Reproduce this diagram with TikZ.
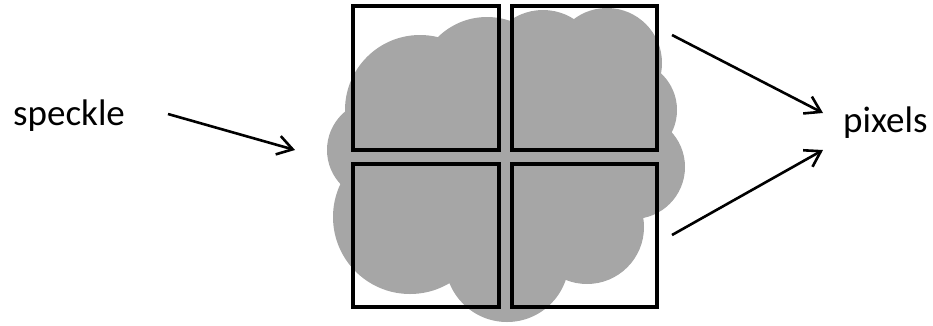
\documentclass[tikz,border=0pt]{standalone}
\usepackage{fontspec}
\setmainfont{Carlito}
\usepackage{xcolor}
\usetikzlibrary{arrows.meta,positioning}
\definecolor{speckgray}{RGB}{166,166,166}

\begin{document}
\begin{tikzpicture}[x=1pt,y=-1pt,
  lbl/.style={inner sep=0pt,anchor=base west,font=\fontsize{37}{44}\selectfont},
  px/.style={draw=black,line width=4pt},
  a/.style={-{Straight Barb[length=15pt,width=19pt]},line width=2.6pt}
]
\useasboundingbox (0,0) rectangle (933,325);
% speckle blob
\fill[speckgray]
  (420,110) circle (75) (487,87) circle (70) (543,67) circle (57)
  (607,63) circle (55) (627,110) circle (50) (633,167) circle (52)
  (587,227) circle (57) (507,260) circle (62) (410,217) circle (77)
  (377,150) circle (50) (387,217) circle (53) (507,160) circle (110);
% pixels
\draw[px] (353,6) rectangle (499,150);
\draw[px] (512,6) rectangle (657,150);
\draw[px] (353,164) rectangle (499,307);
\draw[px] (512,164) rectangle (657,307);
% labels
\node[lbl] (speckle) at (13,125) {speckle};
\node[lbl] (pixels) at (843,132) {pixels};
\coordinate (sp0) at (168,114);
\coordinate (sp1) at (295,150);
\coordinate (pt0) at (672,35);
\coordinate (pt1) at (823,113);
\coordinate (pb0) at (672,235);
\coordinate (pb1) at (823,150);
\draw[a] (sp0) -- (sp1);
\draw[a] (pt0) -- (pt1);
\draw[a] (pb0) -- (pb1);
\end{tikzpicture}
\end{document}
